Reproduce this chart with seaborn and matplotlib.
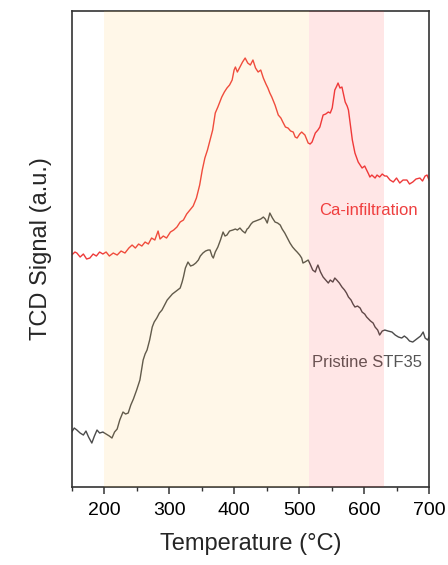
import numpy as np
import pandas as pd
import matplotlib
matplotlib.use("Agg")
import matplotlib.pyplot as plt
from matplotlib.ticker import MultipleLocator
import seaborn as sns

# TPD traces: temperature (°C) and TCD signal (a.u., baseline = bottom of the plot)
ca_temp = [150, 155, 158, 163, 168, 173, 178, 183, 188, 193, 198, 203, 208, 214, 220, 226, 232, 238,
           243, 248, 253, 258, 263, 268, 273, 278, 283, 286, 291, 296, 302, 307, 312, 317, 322, 327,
           332, 337, 342, 347, 351, 355, 359, 363, 367, 371, 375, 381, 385, 389, 393, 397, 400, 402,
           405, 409, 413, 417, 421, 425, 429, 433, 437, 441, 445, 449, 452, 455, 458, 463, 468, 472,
           475, 479, 483, 487, 491, 494, 497, 501, 504, 509, 514, 517, 520, 525, 529, 532, 537, 541,
           545, 548, 551, 555, 558, 560, 563, 566, 569, 571, 574, 576, 579, 582, 586, 591, 594, 597,
           601, 604, 607, 609, 612, 617, 620, 624, 628, 632, 635, 640, 645, 650, 655, 660, 666, 670,
           675, 680, 686, 690, 694, 697, 700]
ca_level = [255, 252, 253, 257, 254, 259, 258, 254, 256, 252, 254, 252, 256, 253, 255, 251, 253, 248,
            245, 248, 244, 246, 242, 244, 238, 240, 231, 239, 236, 238, 232, 230, 227, 222, 220, 214,
            210, 206, 198, 185, 170, 158, 150, 140, 130, 113, 107, 97, 92, 88, 85, 80, 70, 67,
            72, 67, 62, 58, 63, 65, 60, 68, 72, 70, 78, 84, 88, 93, 97, 105, 115, 118,
            122, 127, 128, 131, 132, 137, 138, 134, 132, 135, 143, 144, 142, 133, 130, 127, 115, 114,
            112, 113, 108, 90, 86, 83, 88, 87, 96, 102, 106, 110, 125, 140, 153, 162, 165, 168,
            166, 170, 174, 177, 175, 178, 175, 177, 174, 176, 176, 180, 182, 178, 183, 180, 180, 184,
            182, 179, 178, 181, 176, 175, 180]

pr_temp = [150, 154, 158, 163, 168, 172, 176, 181, 185, 189, 193, 198, 203, 208, 212, 216, 220, 224,
           229, 233, 237, 241, 245, 250, 255, 258, 260, 263, 266, 270, 274, 277, 281, 285, 289, 293,
           297, 301, 305, 309, 313, 317, 320, 322, 325, 329, 333, 337, 341, 345, 348, 352, 356, 360,
           363, 366, 368, 371, 375, 379, 383, 386, 389, 393, 398, 402, 405, 409, 413, 417, 420, 422,
           426, 429, 433, 437, 441, 445, 448, 451, 455, 459, 463, 467, 471, 474, 478, 482, 486, 490,
           494, 497, 501, 504, 506, 509, 514, 517, 521, 525, 527, 529, 533, 537, 541, 545, 548, 552,
           555, 558, 562, 566, 570, 573, 576, 580, 583, 586, 590, 594, 597, 601, 604, 607, 610, 614,
           617, 621, 624, 628, 632, 637, 643, 648, 653, 658, 662, 666, 670, 675, 679, 683, 687, 691,
           694, 698, 700]
pr_level = [432, 428, 430, 433, 435, 431, 437, 443, 436, 430, 433, 432, 434, 436, 438, 432, 429, 420,
            412, 414, 413, 405, 399, 390, 380, 368, 360, 354, 350, 340, 327, 322, 318, 313, 310, 305,
            300, 297, 294, 292, 290, 288, 282, 277, 268, 262, 266, 265, 263, 260, 256, 253, 251, 250,
            250, 256, 258, 252, 247, 240, 232, 236, 235, 231, 230, 229, 230, 228, 231, 233, 229, 228,
            224, 222, 221, 220, 219, 217, 219, 223, 213, 218, 222, 223, 225, 229, 233, 238, 243, 247,
            250, 252, 255, 258, 263, 262, 260, 264, 270, 272, 268, 265, 272, 277, 280, 283, 280, 282,
            278, 280, 283, 287, 290, 293, 297, 300, 304, 307, 306, 308, 312, 314, 317, 319, 321, 323,
            327, 330, 335, 331, 330, 331, 332, 335, 337, 338, 336, 338, 341, 342, 340, 338, 336, 332,
            338, 340, 337]

series_names = ["Ca-infiltration", "Pristine STF35"]
series_colors = ["#ee3a3a", "#4b4b4b"]
x_ticks = [200, 300, 400, 500, 600, 700]

# shaded temperature windows
low_window = (200, 515)
high_window = (515, 631)

TOP = 487  # signal offset so peaks point upward
df = pd.concat([
    pd.DataFrame({"T": ca_temp, "signal": [TOP - v for v in ca_level], "sample": series_names[0]}),
    pd.DataFrame({"T": pr_temp, "signal": [TOP - v for v in pr_level], "sample": series_names[1]}),
], ignore_index=True)

sns.set_style("ticks")
plt.rcParams["font.family"] = ["Liberation Sans", "DejaVu Sans"]

fig = plt.figure(figsize=(4.48, 5.65), dpi=100)
ax = fig.add_axes([0.16, 0.138, 0.7976, 0.8425])

sns.lineplot(data=df, x="T", y="signal", hue="sample", palette=series_colors,
             hue_order=series_names, linewidth=1.0, legend=False, ax=ax, sort=False,
             estimator=None)

ax.text(607, TOP - 210, series_names[0], color="#ee4040", fontsize=12,
        ha="center", va="center")
ax.text(604, TOP - 362, series_names[1], color="#555555", fontsize=12,
        ha="center", va="center")

# translucent windows drawn over the traces
ax.axvspan(*low_window, color=(1.0, 0.78, 0.31), alpha=0.13, lw=0, zorder=5)
ax.axvspan(*high_window, color=(1.0, 0.2, 0.2), alpha=0.12, lw=0, zorder=5)

ax.set_xlim(150, 700)
ax.set_ylim(0, 476)
ax.set_xticks(x_ticks)
ax.xaxis.set_minor_locator(MultipleLocator(50))
ax.set_yticks([])
ax.tick_params(axis="x", which="major", direction="out", length=5, width=1.1,
               labelsize=14, colors="#333333", labelcolor="black", pad=6)
ax.tick_params(axis="x", which="minor", direction="out", length=3, width=1.0,
               colors="#333333")
for side in ["left", "right", "top", "bottom"]:
    ax.spines[side].set_visible(True)
    ax.spines[side].set_linewidth(1.2)
    ax.spines[side].set_color("#333333")

ax.set_xlabel("Temperature (°C)", fontsize=17, labelpad=10)
ax.set_ylabel("TCD Signal (a.u.)", fontsize=17, labelpad=14)

fig.savefig("out.png", dpi=100)
